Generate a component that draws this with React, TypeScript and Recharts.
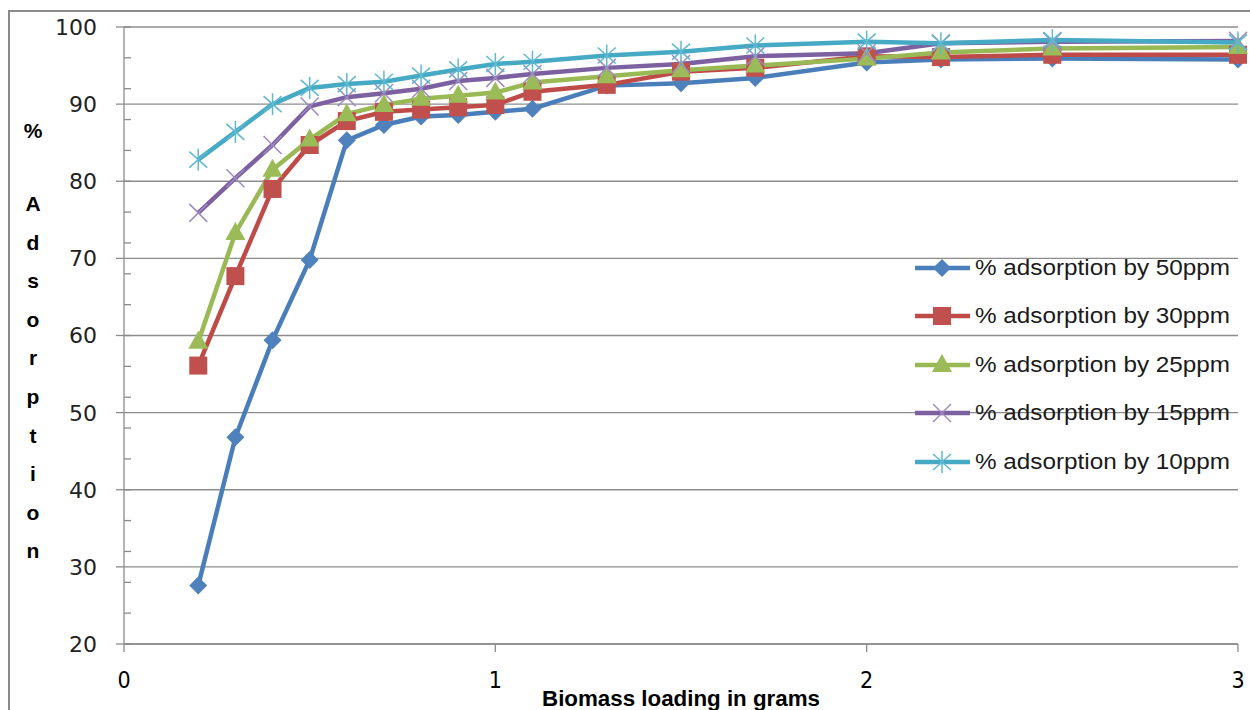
import { CartesianGrid, Legend, Line, LineChart, XAxis, YAxis } from 'recharts';

// biomass loading (g)
const loading = [0.2, 0.3, 0.4, 0.5, 0.6, 0.7, 0.8, 0.9, 1.0, 1.1, 1.3, 1.5, 1.7, 2.0, 2.2, 2.5, 3.0];

// % adsorption at each initial concentration
const ppm50 = [27.6, 46.8, 59.4, 69.8, 85.3, 87.3, 88.4, 88.6, 89.0, 89.4, 92.4, 92.7, 93.4, 95.4, 95.8, 95.9, 95.8];
const ppm30 = [56.1, 67.7, 79.0, 84.7, 87.8, 89.0, 89.3, 89.6, 89.9, 91.6, 92.5, 94.2, 94.7, 96.2, 96.1, 96.4, 96.4];
const ppm25 = [59.2, 73.3, 81.5, 85.4, 88.7, 89.9, 90.7, 91.1, 91.5, 92.8, 93.6, 94.4, 95.0, 95.9, 96.7, 97.2, 97.4];
const ppm15 = [75.9, 80.4, 84.7, 89.7, 90.9, 91.4, 92.0, 93.0, 93.4, 93.9, 94.7, 95.2, 96.2, 96.6, 97.9, 98.1, 98.2];
const ppm10 = [82.8, 86.4, 90.0, 92.1, 92.6, 92.9, 93.7, 94.5, 95.2, 95.5, 96.3, 96.8, 97.6, 98.1, 97.9, 98.3, 98.0];

const xTicks = [0, 1, 2, 3];
const yTicks = [20, 30, 40, 50, 60, 70, 80, 90, 100];
const yMinorTicks = [20, 24, 28, 30, 32, 36, 40, 44, 48, 50, 52, 56, 60, 64, 68, 70, 72, 76, 80, 84, 88, 90, 92, 96, 100];
const yTitle = ['A', 'd', 's', 'o', 'r', 'p', 't', 'i', 'o', 'n'];

type Kind = 'diamond' | 'square' | 'triangle' | 'cross' | 'star';

const series: Array<{ key: string; name: string; color: string; fill: string; kind: Kind; values: number[] }> = [
  { key: 'ppm50', name: '% adsorption by 50ppm', color: '#4A7EBB', fill: '#4F81BD', kind: 'diamond', values: ppm50 },
  { key: 'ppm30', name: '% adsorption by 30ppm', color: '#BE4B48', fill: '#C0504D', kind: 'square', values: ppm30 },
  { key: 'ppm25', name: '% adsorption by 25ppm', color: '#98B954', fill: '#9BBB59', kind: 'triangle', values: ppm25 },
  { key: 'ppm15', name: '% adsorption by 15ppm', color: '#7D60A0', fill: '#9D8BC0', kind: 'cross', values: ppm15 },
  { key: 'ppm10', name: '% adsorption by 10ppm', color: '#46AAC5', fill: '#5EB8D0', kind: 'star', values: ppm10 },
];

const data = loading.map((x, i) => {
  const row: Record<string, number> = { x };
  series.forEach((s) => (row[s.key] = s.values[i]));
  return row;
});

const grid = '#8c8c8c';
const Y_TICK_SIZE = 8;
const Y_TICK_MARGIN = 19;

function Marker({ kind, cx, cy, fill }: { kind: Kind; cx: number; cy: number; fill: string }) {
  if (cx == null || cy == null) return null;
  switch (kind) {
    case 'diamond':
      return <polygon points={`${cx},${cy - 9} ${cx + 9},${cy} ${cx},${cy + 9} ${cx - 9},${cy}`} fill={fill} />;
    case 'square':
      return <rect x={cx - 9} y={cy - 9} width={18} height={18} fill={fill} />;
    case 'triangle':
      return <polygon points={`${cx},${cy - 11} ${cx + 10},${cy + 7} ${cx - 10},${cy + 7}`} fill={fill} />;
    case 'cross':
      return (
        <g stroke={fill} strokeWidth={1.5}>
          <line x1={cx - 9} y1={cy - 9} x2={cx + 9} y2={cy + 9} />
          <line x1={cx - 9} y1={cy + 9} x2={cx + 9} y2={cy - 9} />
        </g>
      );
    default:
      return (
        <g stroke={fill} strokeWidth={1.5}>
          <line x1={cx - 9} y1={cy - 8} x2={cx + 9} y2={cy + 8} />
          <line x1={cx - 9} y1={cy + 8} x2={cx + 9} y2={cy - 8} />
          <line x1={cx} y1={cy - 11} x2={cx} y2={cy + 11} />
        </g>
      );
  }
}

// labelled ticks point outwards, the minor ones (every 4) point into the plot
function YTick({ x, y, payload }: any) {
  const ax = x + Y_TICK_SIZE + Y_TICK_MARGIN;
  const v = payload.value;
  const major = v % 10 === 0;
  return (
    <g>
      {major && <line x1={ax - Y_TICK_SIZE} x2={ax} y1={y} y2={y} stroke={grid} strokeWidth={1.3} />}
      {v % 4 === 0 && <line x1={ax} x2={ax + 7} y1={y} y2={y} stroke={grid} strokeWidth={1.3} />}
      {major && (
        <text x={x} y={y} dy="0.36em" textAnchor="end" fill="#222" fontSize={22} fontFamily="'DejaVu Sans', Verdana, sans-serif">
          {v}
        </text>
      )}
    </g>
  );
}

function LegendBox() {
  return (
    <div>
      {series.map((s) => (
        <svg key={s.key} width={345} height={48.4} style={{ display: 'block' }}>
          <line x1={10} y1={24} x2={65} y2={24} stroke={s.color} strokeWidth={4.5} />
          <Marker kind={s.kind} cx={37} cy={24} fill={s.fill} />
          <text
            x={70}
            y={31}
            fontFamily="'Liberation Sans', Arial, sans-serif"
            fontSize={22}
            fill="#1a1a1a"
            textLength={255}
            lengthAdjust="spacingAndGlyphs"
          >
            {s.name}
          </text>
        </svg>
      ))}
    </div>
  );
}

function YTitle() {
  return (
    <text fontFamily="'Liberation Sans', Arial, sans-serif" fontWeight="bold" fontSize={21} fill="#000" textAnchor="middle">
      <tspan x={33} y={138}>%</tspan>
      {yTitle.map((c, i) => (
        <tspan key={i} x={33} y={211 + i * 38.6}>
          {c}
        </tspan>
      ))}
    </text>
  );
}

function XTitle({ viewBox }: any) {
  const cx = viewBox.x + viewBox.width / 2;
  return (
    <text
      x={cx}
      y={706}
      textAnchor="middle"
      fontFamily="'Liberation Sans', Arial, sans-serif"
      fontWeight="bold"
      fontSize={22}
      fill="#000"
      textLength={278}
      lengthAdjust="spacingAndGlyphs"
    >
      Biomass loading in grams
    </text>
  );
}

export default function App() {
  return (
    <div style={{ position: 'absolute', left: 0, top: 0, width: 1250, height: 710, overflow: 'hidden', background: '#fff' }}>
      <div
        style={{
          position: 'absolute',
          left: 8,
          top: 10,
          width: 1270,
          height: 740,
          border: '2px solid #8a8a8a',
        }}
      />
      <div style={{ position: 'absolute', left: 0, top: 0 }}>
        <LineChart width={1250} height={710} data={data} margin={{ top: 27, right: 12, bottom: 0, left: 0 }}>
          <CartesianGrid vertical={false} horizontalValues={yTicks} stroke={grid} strokeWidth={1.3} />
          <XAxis
            type="number"
            dataKey="x"
            domain={[0, 3]}
            ticks={xTicks}
            height={66}
            stroke={grid}
            strokeWidth={1.3}
            tickSize={8}
            tickMargin={20}
            tick={{ fill: '#000', fontSize: 23, fontFamily: "'Liberation Sans Narrow', 'DejaVu Sans Condensed', sans-serif" }}
            label={{ content: XTitle }}
          />
          <YAxis
            type="number"
            domain={[20, 100]}
            ticks={yMinorTicks}
            interval={0}
            width={124}
            stroke={grid}
            strokeWidth={1.3}
            tickLine={false}
            tickSize={Y_TICK_SIZE}
            tickMargin={Y_TICK_MARGIN}
            tick={YTick}
            label={{ content: YTitle }}
          />
          <Legend
            layout="vertical"
            align="center"
            verticalAlign="middle"
            wrapperStyle={{ left: 905, top: 244, width: 345 }}
            content={() => <LegendBox />}
          />
          {series.map((s) => (
            <Line
              key={s.key}
              dataKey={s.key}
              name={s.name}
              type="linear"
              stroke={s.color}
              strokeWidth={4.5}
              isAnimationActive={false}
              dot={(p: any) => <Marker key={`${s.key}-${p.index}`} kind={s.kind} cx={p.cx} cy={p.cy} fill={s.fill} />}
              activeDot={false}
            />
          ))}
        </LineChart>
      </div>
    </div>
  );
}
